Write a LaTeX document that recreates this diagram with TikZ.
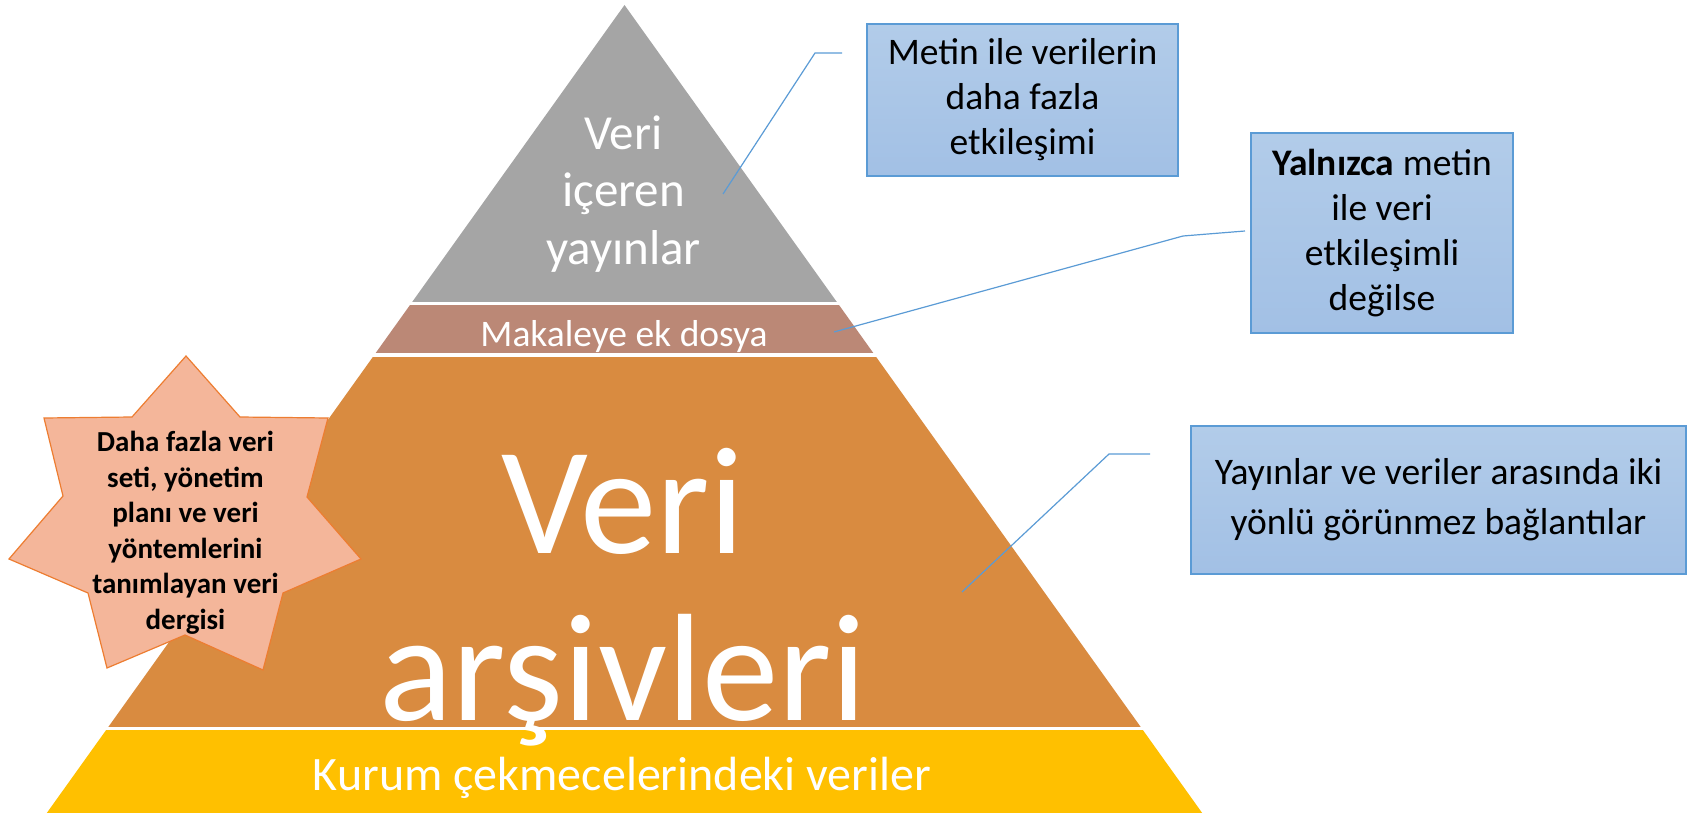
\documentclass[tikz,border=0pt]{standalone}
\usepackage{fontspec}
\setmainfont{Carlito}

\definecolor{pubgray}{RGB}{165,165,165}
\definecolor{suppbrown}{RGB}{187,136,118}
\definecolor{archorange}{RGB}{217,139,64}
\definecolor{draweryellow}{RGB}{255,192,0}
\definecolor{starfill}{RGB}{244,182,154}
\definecolor{starline}{RGB}{237,125,49}
\definecolor{boxtop}{RGB}{178,204,233}
\definecolor{boxbottom}{RGB}{162,192,229}
\definecolor{calloutline}{RGB}{91,155,213}

\tikzset{
	calloutbox/.style = {draw = calloutline, line width = 1.5pt, top color = boxtop, bottom color = boxbottom, align = center, inner sep = 0pt, font = \fontsize{37.5}{45}\selectfont},
	calloutlink/.style = {draw = calloutline, line width = 1.2pt},
	bandtext/.style = {text = white, align = center, inner sep = 0pt}
}

\begin{document}
\begin{tikzpicture}[x = 1pt, y = -1pt]

	% Definition
	
	\def\apex{624.5}	% Apex of the pyramid
	\def\base{813}		% Bottom edge
	
	\useasboundingbox (0, 0) rectangle (1689, \base);
	
	% Pyramid bands
	
	\begin{scope}
		\clip (\apex, 5) -- (46.8, \base) -- (1202.2, \base) -- cycle;
		\fill [pubgray] (0, 0) rectangle (1689, 302);
		\fill [suppbrown] (0, 305) rectangle (1689, 353);
		\fill [archorange] (0, 356.5) rectangle (1689, 727);
		\fill [draweryellow] (0, 730) rectangle (1689, \base);
	\end{scope}
	
	% Band labels
	
	\node [bandtext, font = \fontsize{49}{57.5}\selectfont] (pubs) at (623.5, 194) {Veri\\içeren\\yayınlar};
	\node [bandtext, font = \fontsize{37.5}{45}\selectfont, anchor = base] (supp) at (624, 346) {Makaleye ek dosya};
	\node [bandtext, font = \fontsize{153}{167}\selectfont] (arch) at (623, 597) {Veri\\arşivleri};
	\node [bandtext, font = \fontsize{48}{57}\selectfont, anchor = base] (drawer) at (622, 790) {Kurum çekmecelerindeki veriler};
	
	% Star
	
	\draw [starline, fill = starfill, line width = 1.2pt] (186, 356) -- (240, 417) -- (328, 418) -- (307, 497) -- (361, 559) -- (283, 593) -- (263, 670) -- (185, 635) -- (107, 668) -- (88, 593) -- (9, 559) -- (63, 496) -- (44, 418) -- (132, 417) -- cycle;
	\node [align = center, inner sep = 0pt, font = \bfseries\fontsize{29}{35.5}\selectfont] (journal) at (185.5, 533) {Daha fazla veri\\seti, yönetim\\planı ve veri\\yöntemlerini\\tanımlayan veri\\dergisi};
	
	% Callout boxes
	
	\node [calloutbox, minimum width = 311pt, minimum height = 152pt] (more) at (1022.5, 100) {Metin ile verilerin\\daha fazla\\etkileşimi};
	\node [calloutbox, minimum width = 262pt, minimum height = 200pt] (only) at (1382, 233) {\textbf{Yalnızca} metin\\ile veri\\etkileşimli\\değilse};
	\node [calloutbox, minimum width = 495pt, minimum height = 148pt, font = \fontsize{37.5}{50}\selectfont] (links) at (1438.5, 500) {Yayınlar ve veriler arasında iki\\yönlü görünmez bağlantılar};
	
	% Callout lines
	
	\coordinate (tip1) at (723, 194);
	\coordinate (bend1) at (815, 53);
	\coordinate (end1) at (842, 53);
	\coordinate (tip2) at (834, 332);
	\coordinate (bend2) at (1183, 236);
	\coordinate (end2) at (1245, 231);
	\coordinate (tip3) at (962, 592);
	\coordinate (bend3) at (1109, 454);
	\coordinate (end3) at (1150, 454);
	
	\draw [calloutlink] (tip1) -- (bend1) -- (end1);
	\draw [calloutlink] (tip2) -- (bend2) -- (end2);
	\draw [calloutlink] (tip3) -- (bend3) -- (end3);

\end{tikzpicture}
\end{document}
